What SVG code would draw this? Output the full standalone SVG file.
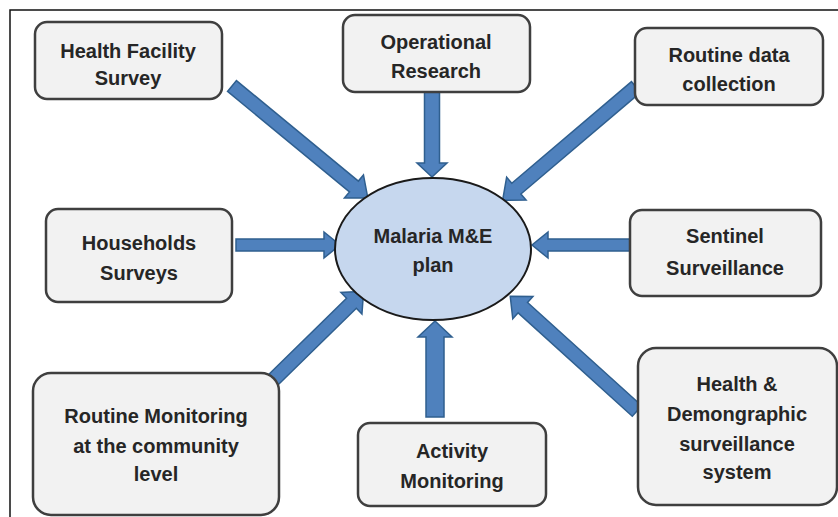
<svg xmlns="http://www.w3.org/2000/svg" width="838" height="517" viewBox="0 0 838 517">
<style>
.box{fill:#f2f2f2;stroke:#3f3f3f;stroke-width:2.5}
.t{font-family:"Liberation Sans",Arial,sans-serif;font-weight:bold;font-size:20px;fill:#262626;text-anchor:middle}
.arr{fill:#4f81bd;stroke:#2f5f8f;stroke-width:1.5;stroke-linejoin:miter}
</style>
<rect x="0" y="0" width="838" height="517" fill="#ffffff"/>
<rect x="10" y="10" width="840" height="520" fill="none" stroke="#111" stroke-width="1.5"/>
<g id="connectors">
<path class="arr" transform="translate(232,86) rotate(39.5)" d="M0,-7 L158,-7 L158,-15 L176,0 L158,15 L158,7 L0,7 Z"/>
<path class="arr" transform="translate(432,92) rotate(90)" d="M0,-7.5 L71,-7.5 L71,-15 L85,0 L71,15 L71,7.5 L0,7.5 Z"/>
<path class="arr" transform="translate(636,87) rotate(139.65)" d="M0,-7 L157,-7 L157,-15 L175,0 L157,15 L157,7 L0,7 Z"/>
<path class="arr" transform="translate(236,245) rotate(0)" d="M0,-6 L88,-6 L88,-13 L104,0 L88,13 L88,6 L0,6 Z"/>
<path class="arr" transform="translate(630,245) rotate(180)" d="M0,-6 L82,-6 L82,-13 L98,0 L82,13 L82,6 L0,6 Z"/>
<path class="arr" transform="translate(270,383) rotate(-44.4)" d="M0,-7 L114,-7 L114,-15 L131,0 L114,15 L114,7 L0,7 Z"/>
<path class="arr" transform="translate(435,417) rotate(-90)" d="M0,-9 L80,-9 L80,-17 L96,0 L80,17 L80,9 L0,9 Z"/>
<path class="arr" transform="translate(637,411) rotate(-137.84)" d="M0,-7 L154,-7 L154,-15 L171,0 L154,15 L154,7 L0,7 Z"/>
</g>
<g id="center">
<ellipse cx="433" cy="249" rx="98" ry="71" fill="#c6d7ee" stroke="#1a1a1a" stroke-width="2"/>
<text class="t" x="433" y="243">Malaria M&amp;E</text>
<text class="t" x="433" y="272">plan</text>
</g>
<g id="health-facility-survey">
<rect class="box" x="35" y="22" width="187" height="77" rx="12"/>
<text class="t" x="128" y="58">Health Facility</text>
<text class="t" x="128" y="85">Survey</text>
</g>
<g id="operational-research">
<rect class="box" x="343" y="15" width="187" height="77" rx="12"/>
<text class="t" x="436" y="49">Operational</text>
<text class="t" x="436" y="78">Research</text>
</g>
<g id="routine-data-collection">
<rect class="box" x="635" y="28" width="188" height="77" rx="12"/>
<text class="t" x="729" y="62">Routine data</text>
<text class="t" x="729" y="91">collection</text>
</g>
<g id="households-surveys">
<rect class="box" x="46" y="209" width="186" height="93" rx="12"/>
<text class="t" x="139" y="250">Households</text>
<text class="t" x="139" y="280">Surveys</text>
</g>
<g id="sentinel-surveillance">
<rect class="box" x="630" y="210" width="191" height="86" rx="12"/>
<text class="t" x="725" y="243">Sentinel</text>
<text class="t" x="725" y="275">Surveillance</text>
</g>
<g id="routine-monitoring">
<rect class="box" x="33" y="373" width="246" height="142" rx="18"/>
<text class="t" x="156" y="423">Routine Monitoring</text>
<text class="t" x="156" y="453">at the community</text>
<text class="t" x="156" y="481">level</text>
</g>
<g id="activity-monitoring">
<rect class="box" x="358" y="423" width="188" height="83" rx="12"/>
<text class="t" x="452" y="458">Activity</text>
<text class="t" x="452" y="488">Monitoring</text>
</g>
<g id="health-demographic">
<rect class="box" x="638" y="348" width="199" height="157" rx="18"/>
<text class="t" x="737" y="391">Health &amp;</text>
<text class="t" x="737" y="421">Demongraphic</text>
<text class="t" x="737" y="451">surveillance</text>
<text class="t" x="737" y="479">system</text>
</g>
</svg>
